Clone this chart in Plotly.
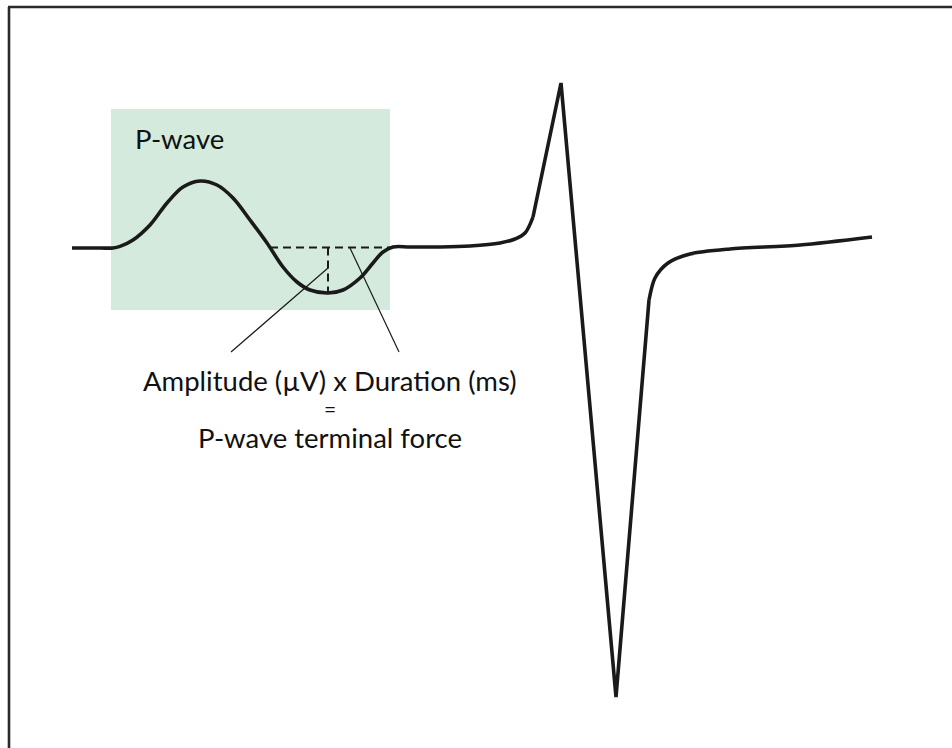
import plotly.graph_objects as go

# ECG trace (x in time units, y in amplitude units; baseline = 0)
p_x = [72, 100, 113, 120, 133, 150, 167, 183, 200, 217, 233, 250, 267, 283, 297, 310, 328, 343, 360, 373, 383, 393, 410, 440, 470, 500, 515, 525, 533]
p_y = [0, 0, 0, 1.6, 8, 23, 45, 61, 67, 63, 50, 28, 5, -19, -34, -42, -45, -42, -30, -15, -4, 1, 1, 1, 2, 5, 9, 15, 31]

qrs_x = [533, 561, 616, 649]
qrs_y = [31, 165, -449, -52]

st_x = [649, 655, 668, 690, 730, 800, 872]
st_y = [-52, -30, -15, -6, -1, 3, 11]

# annotation geometry (same units)
term_start, term_end = 270, 392
trough_x, trough_y = 328, -45
box_x = [111, 390]
box_y = [-62, 139]

label_main = "Amplitude (µV) x Duration (ms)"
label_eq = "="
label_res = "P-wave terminal force"
label_box = "P-wave"

W, H = 952, 748
BASE = 248  # pixel row of baseline

fig = go.Figure()

line_style = dict(color="#1a1a1a", width=3.6)
fig.add_trace(go.Scatter(x=p_x, y=p_y, mode="lines", line=dict(**line_style, shape="spline", smoothing=1.0), hoverinfo="skip"))
fig.add_trace(go.Scatter(x=qrs_x, y=qrs_y, mode="lines", line=dict(**line_style), hoverinfo="skip"))
fig.add_trace(go.Scatter(x=st_x, y=st_y, mode="lines", line=dict(**line_style, shape="spline", smoothing=0.8), hoverinfo="skip"))

# dashed terminal-force lines
fig.add_trace(go.Scatter(x=[term_start, term_end], y=[0.5, 0.5], mode="lines",
                         line=dict(color="#1a1a1a", width=2, dash="8px,5px"), hoverinfo="skip"))
fig.add_trace(go.Scatter(x=[trough_x, trough_x], y=[0.5, trough_y], mode="lines",
                         line=dict(color="#1a1a1a", width=2, dash="8px,5px"), hoverinfo="skip"))
# leader lines
fig.add_trace(go.Scatter(x=[trough_x, 231], y=[-20, -104], mode="lines",
                         line=dict(color="#1a1a1a", width=1.2), hoverinfo="skip"))
fig.add_trace(go.Scatter(x=[350, 399], y=[0, -104], mode="lines",
                         line=dict(color="#1a1a1a", width=1.2), hoverinfo="skip"))

shapes = [
    dict(type="rect", xref="x", yref="y", x0=box_x[0], x1=box_x[1], y0=box_y[0], y1=box_y[1],
         fillcolor="#d4eadd", line=dict(width=0), layer="below"),
    dict(type="line", xref="x", yref="y", x0=9, x1=9, y0=BASE - 7, y1=BASE - H - 5,
         line=dict(color="#2a2a2a", width=2.6)),
    dict(type="line", xref="x", yref="y", x0=8, x1=W + 5, y0=BASE - 7, y1=BASE - 7,
         line=dict(color="#2a2a2a", width=2.6)),
]

font_family = "Lato, 'Liberation Sans', sans-serif"
FS = 27.5
annotations = [
    dict(x=133, y=BASE - 138, text=label_box, showarrow=False, xanchor="left", yanchor="middle",
         font=dict(family=font_family, size=FS, color="#111")),
    dict(x=330, y=BASE - 380, text=label_main, showarrow=False, xanchor="center", yanchor="middle",
         font=dict(family=font_family, size=FS, color="#111")),
    dict(x=330, y=BASE - 408.5, text=label_eq, showarrow=False, xanchor="center", yanchor="middle",
         font=dict(family=font_family, size=21, color="#111")),
    dict(x=330, y=BASE - 437, text=label_res, showarrow=False, xanchor="center", yanchor="middle",
         font=dict(family=font_family, size=FS, color="#111")),
]

fig.update_layout(
    width=W, height=H,
    margin=dict(l=0, r=0, t=0, b=0),
    paper_bgcolor="white", plot_bgcolor="white",
    showlegend=False,
    shapes=shapes, annotations=annotations,
    xaxis=dict(range=[0, W], visible=False, fixedrange=True),
    yaxis=dict(range=[BASE - H, BASE], visible=False, fixedrange=True),
)

fig.write_html("out.html", config={"displayModeBar": False},
               post_script="document.body.style.margin='0';document.body.style.overflow='hidden';")
